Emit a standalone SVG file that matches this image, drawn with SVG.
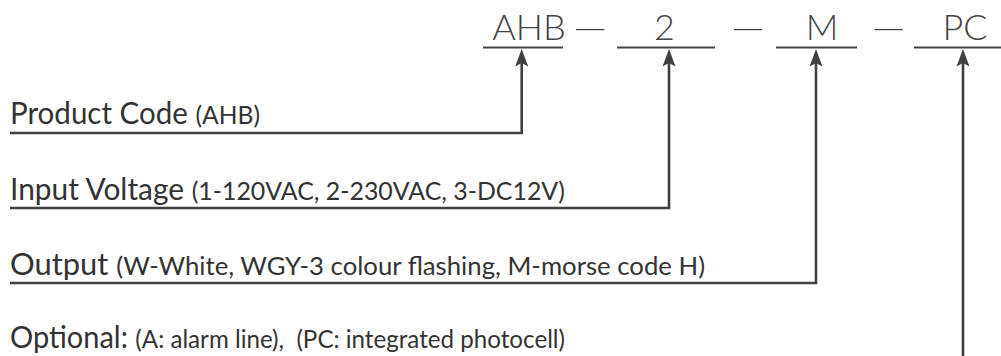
<svg xmlns="http://www.w3.org/2000/svg" width="1001" height="356" viewBox="0 0 1001 356">
<style>
.code{font-family:Lato,"Open Sans",sans-serif;font-weight:300;font-size:36px;fill:#444;text-anchor:middle}
.lbl{font-family:Lato,"Liberation Sans",sans-serif;fill:#333}
.main{font-size:30px}
.sub{font-size:25px}
.ul{stroke:#444;stroke-width:2;fill:none}
.conn{stroke:#404040;stroke-width:2.6;fill:none}
</style>
<defs>
<marker id="ah" markerUnits="userSpaceOnUse" orient="auto" refX="0" refY="0" markerWidth="20" markerHeight="20" viewBox="-10 -7 17 14" overflow="visible">
<path d="M6,0 L-9,-5.5 L-6,0 L-9,5.5 Z" fill="#404040"/>
</marker>
</defs>
<g id="code">
<g id="n-ahb"><text class="code" x="529" y="40">AHB</text><line class="ul" x1="483" y1="47.5" x2="563" y2="47.5"/></g>
<text class="code" x="0" y="0" transform="translate(590,40) scale(2,1)">–</text>
<g id="n-2"><text class="code" x="664.5" y="40">2</text><line class="ul" x1="617" y1="47.5" x2="715" y2="47.5"/></g>
<text class="code" x="0" y="0" transform="translate(748,40) scale(2,1)">–</text>
<g id="n-m"><text class="code" x="822" y="40">M</text><line class="ul" x1="776" y1="47.5" x2="857" y2="47.5"/></g>
<text class="code" x="0" y="0" transform="translate(888.5,40) scale(2,1)">–</text>
<g id="n-pc"><text class="code" x="965" y="40">PC</text><line class="ul" x1="914" y1="47.5" x2="1001" y2="47.5"/></g>
</g>
<g id="n-product"><text class="lbl" x="10" y="124" textLength="250" lengthAdjust="spacingAndGlyphs"><tspan class="main">Product Code </tspan><tspan class="sub">(AHB)</tspan></text></g>
<g id="n-input"><text class="lbl" x="10" y="200" textLength="555" lengthAdjust="spacingAndGlyphs"><tspan class="main">Input Voltage </tspan><tspan class="sub">(1-120VAC, 2-230VAC, 3-DC12V)</tspan></text></g>
<g id="n-output"><text class="lbl" x="10" y="275" textLength="695" lengthAdjust="spacingAndGlyphs"><tspan class="main">Output </tspan><tspan class="sub">(W-White, WGY-3 colour flashing, M-morse code H)</tspan></text></g>
<g id="n-optional"><text class="lbl" x="10" y="348" textLength="555" lengthAdjust="spacingAndGlyphs"><tspan class="main">Optional: </tspan><tspan class="sub">(A: alarm line),&#160; (PC: integrated photocell)</tspan></text></g>
<g id="connectors">
<path class="conn" d="M10,133 H521.7 V56" marker-end="url(#ah)"/>
<path class="conn" d="M10,208 H669 V56" marker-end="url(#ah)"/>
<path class="conn" d="M10,283 H816 V56" marker-end="url(#ah)"/>
<path class="conn" d="M963,356 V56" marker-end="url(#ah)"/>
</g>
</svg>
